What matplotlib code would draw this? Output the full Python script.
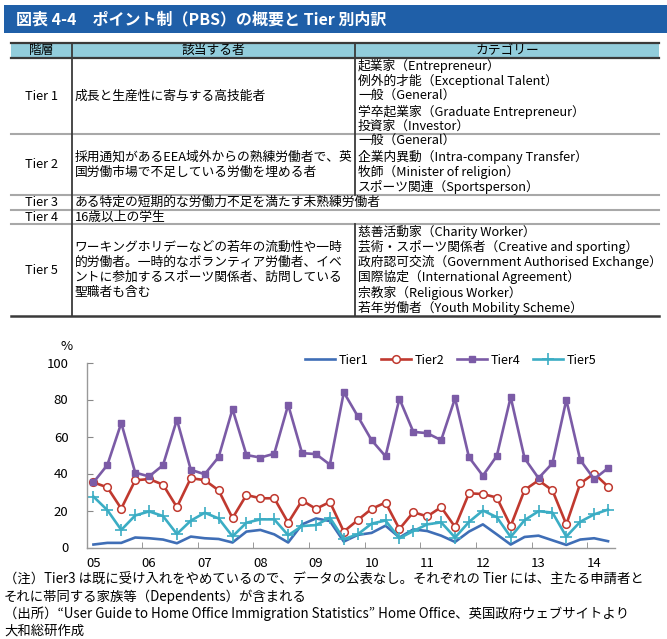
import matplotlib.pyplot as plt
import numpy as np
from matplotlib.patches import Rectangle

plt.rcParams['font.family'] = ['Noto Sans CJK JP', 'DejaVu Sans']

# ================== data =================
year_labels = ['05', '06', '07', '08', '09', '10', '11', '12', '13', '14']

# quarterly share (%), 2005Q1 - 2014Q2
tier1 = [1.6, 2.5, 2.5, 5.4, 5.0, 4.3, 2.3, 5.9, 5.0, 4.6,
         2.7, 8.6, 9.5, 7.1, 2.7, 12.5, 15.7, 14.3, 3.2, 6.8,
         7.9, 11.8, 5.4, 9.8, 8.9, 6.4, 3.0, 8.6, 12.5, 7.1,
         1.6, 5.7, 6.4, 3.9, 1.4, 4.3, 5.0, 3.4]
tier2 = [35.2, 32.5, 21.0, 36.3, 37.0, 34.0, 21.8, 37.5, 36.4, 30.9,
         15.9, 28.4, 26.6, 26.6, 13.4, 25.4, 20.9, 24.6, 8.6, 14.8,
         20.9, 24.3, 10.0, 19.1, 16.8, 21.8, 11.1, 29.3, 28.9, 27.0,
         11.6, 31.1, 36.3, 30.9, 12.5, 34.6, 40.0, 32.9]
tier4 = [35.2, 44.6, 67.3, 40.5, 38.4, 44.5, 69.1, 42.0, 39.6, 48.9,
         74.8, 50.0, 48.6, 50.7, 77.1, 51.0, 50.5, 44.8, 83.9, 71.0,
         58.0, 49.3, 80.4, 62.5, 61.8, 58.0, 80.7, 48.8, 38.8, 49.5,
         81.3, 48.2, 37.5, 45.5, 79.8, 47.3, 37.0, 42.9]
tier5 = [27.5, 20.2, 9.5, 17.3, 19.5, 17.0, 7.3, 14.5, 18.8, 15.7,
         6.0, 13.4, 15.2, 15.2, 6.6, 11.6, 12.1, 16.1, 4.5, 7.1,
         12.9, 14.6, 5.0, 8.9, 12.5, 13.6, 5.4, 13.8, 20.0, 16.4,
         5.7, 14.8, 19.6, 18.9, 5.9, 13.9, 17.9, 20.5]

title = '図表 4-4　ポイント制（PBS）の概要と Tier 別内訳'
header = ['階層', '該当する者', 'カテゴリー']
tiers = ['Tier 1', 'Tier 2', 'Tier 3', 'Tier 4', 'Tier 5']
descriptions = [
    ['成長と生産性に寄与する高技能者'],
    ['採用通知があるEEA域外からの熟練労働者で、英', '国労働市場で不足している労働を埋める者'],
    ['ある特定の短期的な労働力不足を満たす未熟練労働者'],
    ['16歳以上の学生'],
    ['ワーキングホリデーなどの若年の流動性や一時', '的労働者。一時的なボランティア労働者、イベ',
     'ントに参加するスポーツ関係者、訪問している', '聖職者も含む'],
]
categories = [
    ['起業家（Entrepreneur）', '例外的才能（Exceptional Talent）', '一般（General）',
     '学卒起業家（Graduate Entrepreneur）', '投資家（Investor）'],
    ['一般（General）', '企業内異動（Intra-company Transfer）', '牧師（Minister of religion）',
     'スポーツ関連（Sportsperson）'],
    [],
    [],
    ['慈善活動家（Charity Worker）', '芸術・スポーツ関係者（Creative and sporting）',
     '政府認可交流（Government Authorised Exchange）', '国際協定（International Agreement）',
     '宗教家（Religious Worker）', '若年労働者（Youth Mobility Scheme）'],
]
notes = [
    '（注）Tier3 は既に受け入れをやめているので、データの公表なし。それぞれの Tier には、主たる申請者と',
    'それに帯同する家族等（Dependents）が含まれる',
    '（出所）“User Guide to Home Office Immigration Statistics” Home Office、英国政府ウェブサイトより',
    '大和総研作成',
]

# ================== figure =================
W, H = 667, 639
fig = plt.figure(figsize=(W / 100, H / 100), dpi=100)
bg = fig.add_axes([0, 0, 1, 1])
bg.set_xlim(0, W)
bg.set_ylim(H, 0)
bg.axis('off')

# title bar
bg.add_patch(Rectangle((4, 5), W - 4, 28, color='#1F5FA8', lw=0))
bg.text(16, 19.5, title, color='white', fontsize=11.5, fontweight='bold', va='center')

# table
x_left, x_c1, x_c2, x_right = 11, 71.5, 355, 659
head_top, head_bot = 42.7, 58.3
row_bounds = [58.3, 134, 195, 210, 224.3, 316]
line_h = 15.2
fs = 9.2
dark = '#3A3A3A'
grey = '#A8A8A8'

bg.add_patch(Rectangle((x_left, head_top), x_right - x_left, head_bot - head_top,
                       color='#92CDDC', lw=0))
for xc, txt in zip([(x_left + x_c1) / 2, (x_c1 + x_c2) / 2, (x_c2 + x_right) / 2], header):
    bg.text(xc, (head_top + head_bot) / 2, txt, fontsize=fs, ha='center', va='center')

bg.plot([x_left, x_right], [head_top, head_top], color=dark, lw=1.6)
bg.plot([x_left, x_right], [head_bot, head_bot], color=dark, lw=1.6)
bg.plot([x_left, x_right], [row_bounds[-1], row_bounds[-1]], color=dark, lw=1.8)
for yb in row_bounds[1:-1]:
    bg.plot([x_left, x_right], [yb, yb], color=grey, lw=1.5)
bg.plot([x_c1, x_c1], [head_top, row_bounds[-1]], color=dark, lw=1.3)
bg.plot([x_c2, x_c2], [head_top, row_bounds[2]], color=dark, lw=1.3)
bg.plot([x_c2, x_c2], [row_bounds[4], row_bounds[-1]], color=dark, lw=1.3)

for i, tier in enumerate(tiers):
    top, bot = row_bounds[i], row_bounds[i + 1]
    mid = (top + bot) / 2
    bg.text((x_left + x_c1) / 2, mid, tier, fontsize=fs, ha='center', va='center')
    desc = descriptions[i]
    start = mid - line_h * (len(desc) - 1) / 2
    for j, line in enumerate(desc):
        bg.text(x_c1 + 3, start + j * line_h, line, fontsize=fs, va='center')
    for j, line in enumerate(categories[i]):
        bg.text(x_c2 + 3, top + line_h / 2 + j * line_h, line, fontsize=fs, va='center')

# notes
for k, line in enumerate(notes):
    bg.text(4, 580 + k * 17, line, fontsize=9.6, va='center')

# ================== line chart =================
ax = fig.add_axes([86.5 / W, (H - 547.5) / H, 528.5 / W, 185 / H])
ax.patch.set_alpha(0)
x = np.arange(len(tier1))

ax.plot(x, tier1, color='#3F6EB6', lw=1.9, label='Tier1')
ax.plot(x, tier2, color='#C0392F', lw=1.9, marker='o', ms=5.5, mfc='white',
        mec='#C0392F', mew=1.1, label='Tier2')
ax.plot(x, tier4, color='#7B5BA6', lw=1.9, marker='s', ms=5, label='Tier4')
ax.plot(x, tier5, color='#3BADC4', lw=1.9, marker='+', ms=8, mew=1.2, label='Tier5')

ax.set_xlim(-0.5, len(tier1) - 0.5)
ax.set_ylim(0, 100)
ax.set_yticks(np.arange(0, 101, 20))
ax.set_xticks(np.arange(0, len(tier1), 4))
ax.set_xticklabels(year_labels)
ax.set_xticks(np.arange(3.5, len(tier1) - 1, 4), minor=True)
ax.tick_params(axis='x', which='major', length=0, pad=7, labelsize=9.5)
ax.tick_params(axis='x', which='minor', direction='in', length=4, color='#888888')
ax.tick_params(axis='y', direction='in', length=4, color='#888888', pad=13, labelsize=9.5)
for side in ['top', 'right']:
    ax.spines[side].set_visible(False)
for side in ['left', 'bottom']:
    ax.spines[side].set_color('#999999')
    ax.spines[side].set_linewidth(1.0)

fig.text(67 / W, 1 - 346 / H, '%', fontsize=9.5, ha='center', va='center')
ax.legend(ncol=4, frameon=False, loc='center', bbox_to_anchor=(451 / W, 1 - 360 / H),
          bbox_transform=fig.transFigure, fontsize=9, handlelength=2.4,
          handletextpad=0.3, columnspacing=1.0)

plt.savefig('out.png', dpi=100)
